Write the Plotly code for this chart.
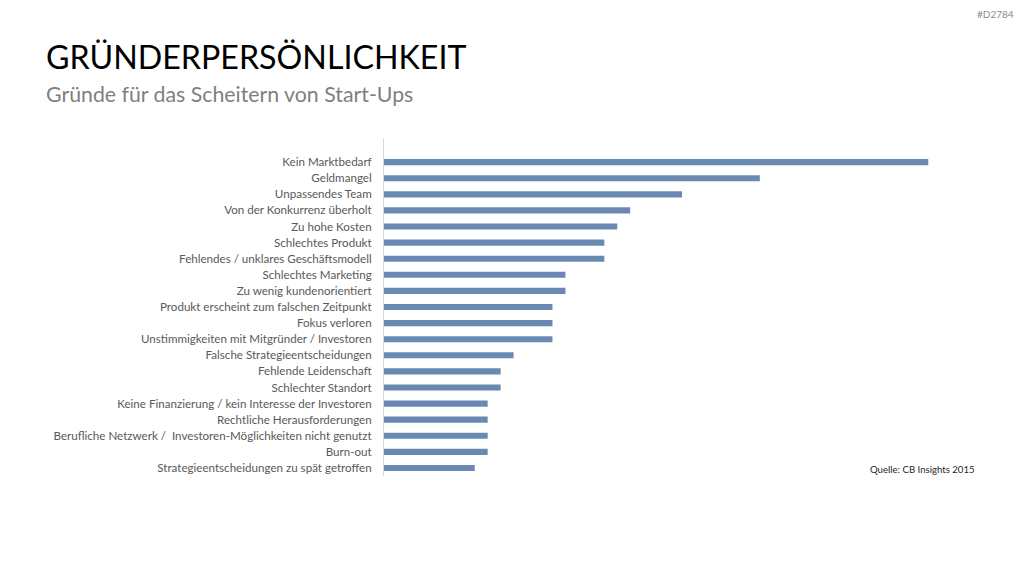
import plotly.graph_objects as go

categories = [
    "Kein Marktbedarf",
    "Geldmangel",
    "Unpassendes Team",
    "Von der Konkurrenz überholt",
    "Zu hohe Kosten",
    "Schlechtes Produkt",
    "Fehlendes / unklares Geschäftsmodell",
    "Schlechtes Marketing",
    "Zu wenig kundenorientiert",
    "Produkt erscheint zum falschen Zeitpunkt",
    "Fokus verloren",
    "Unstimmigkeiten mit Mitgründer / Investoren",
    "Falsche Strategieentscheidungen",
    "Fehlende Leidenschaft",
    "Schlechter Standort",
    "Keine Finanzierung / kein Interesse der Investoren",
    "Rechtliche Herausforderungen",
    "Berufliche Netzwerk /  Investoren-Möglichkeiten nicht genutzt",
    "Burn-out",
    "Strategieentscheidungen zu spät getroffen",
]
values = [42, 29, 23, 19, 18, 17, 17, 14, 14, 13, 13, 13, 10, 9, 9, 8, 8, 8, 8, 7]

FONT = "Lato"
fig = go.Figure(go.Bar(
    x=values, y=categories, orientation="h",
    marker=dict(color="#6A89B0", line=dict(width=0)),
    width=0.38, hoverinfo="x+y",
))

fig.update_layout(
    width=1024, height=576,
    margin=dict(l=384, r=40, t=138, b=100),
    paper_bgcolor="white", plot_bgcolor="white",
    showlegend=False,
    font=dict(family=FONT, color="#595959"),
    xaxis=dict(range=[0, 46.3], showgrid=False, zeroline=False, showticklabels=False,
               showline=False, fixedrange=True),
    yaxis=dict(type="category", range=[19.5, -1.5], showgrid=False, zeroline=False,
               showline=True, linecolor="#D9D9D9", linewidth=1, ticks="",
               ticklabelstandoff=9, tickfont=dict(family=FONT, size=11.6, color="#595959")),
)

pw, ph = 1024 - 384 - 40, 576 - 138 - 100
def px(x):
    return (x - 384) / pw
def py(y):
    return (576 - 100 - y) / ph

fig.add_annotation(text="GRÜNDERPERSÖNLICHKEIT", xref="paper", yref="paper",
                   x=px(44), y=py(56), xanchor="left", yanchor="middle", showarrow=False,
                   font=dict(family=FONT, size=32.2, color="#000000"))
fig.add_annotation(text="Gründe für das Scheitern von Start-Ups", xref="paper", yref="paper",
                   x=px(44), y=py(94), xanchor="left", yanchor="middle", showarrow=False,
                   font=dict(family=FONT, size=21.3, color="#7F7F7F"))
fig.add_annotation(text="#D2784", xref="paper", yref="paper",
                   x=px(1016), y=py(14), xanchor="right", yanchor="middle", showarrow=False,
                   font=dict(family=FONT, size=10, color="#8C8C8C"))
fig.add_annotation(text="Quelle: CB Insights 2015", xref="paper", yref="paper",
                   x=px(977), y=py(469), xanchor="right", yanchor="middle", showarrow=False,
                   font=dict(family=FONT, size=9.6, color="#262626"))

fig.write_html("out.html")
